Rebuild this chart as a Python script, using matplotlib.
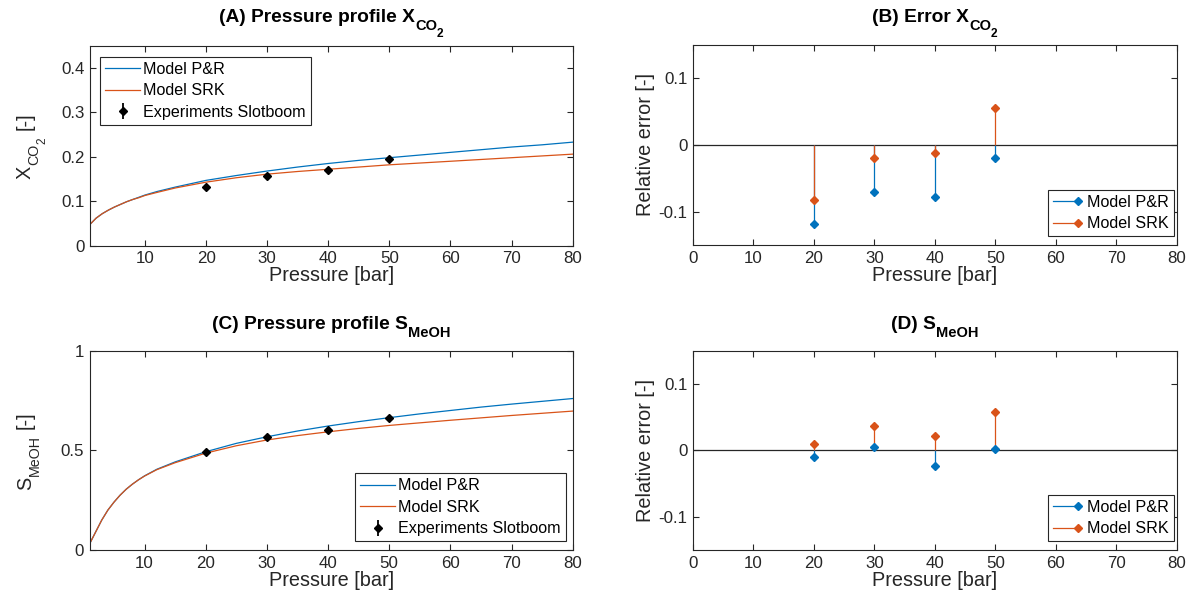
import matplotlib
matplotlib.use("Agg")
import matplotlib.pyplot as plt
from matplotlib.lines import Line2D
from matplotlib.legend_handler import HandlerBase
from matplotlib.font_manager import FontProperties
from matplotlib.transforms import IdentityTransform

FAMILY = ['Liberation Sans', 'DejaVu Sans']
plt.rcParams['font.family'] = FAMILY

BLUE = '#0072BD'
ORANGE = '#D95319'
AXC = '#262626'

# ---------------- data ----------------
pressure_curve = [1, 2, 3, 4, 5, 6, 7, 8, 9, 10, 12, 15, 20, 25, 30, 35, 40, 45, 50, 55, 60, 65, 70, 75, 80]

xco2_pr = [0.048, 0.062, 0.072, 0.080, 0.087, 0.093, 0.099, 0.104, 0.109, 0.114, 0.122, 0.132, 0.147,
           0.158, 0.168, 0.177, 0.185, 0.192, 0.198, 0.204, 0.210, 0.216, 0.222, 0.227, 0.233]
xco2_srk = [0.048, 0.062, 0.072, 0.080, 0.087, 0.093, 0.099, 0.104, 0.108, 0.113, 0.120, 0.130, 0.143,
            0.153, 0.161, 0.167, 0.172, 0.177, 0.182, 0.186, 0.190, 0.194, 0.198, 0.202, 0.206]

smeoh_pr = [0.030, 0.090, 0.150, 0.200, 0.240, 0.275, 0.305, 0.330, 0.352, 0.372, 0.405, 0.442, 0.493,
            0.535, 0.568, 0.597, 0.622, 0.644, 0.664, 0.683, 0.700, 0.717, 0.732, 0.746, 0.760]
smeoh_srk = [0.030, 0.090, 0.150, 0.200, 0.240, 0.275, 0.305, 0.330, 0.352, 0.371, 0.403, 0.438, 0.486,
             0.523, 0.552, 0.574, 0.593, 0.610, 0.625, 0.638, 0.651, 0.663, 0.675, 0.686, 0.697]

pressure_exp = [20, 30, 40, 50]
xco2_exp = [0.132, 0.156, 0.170, 0.194]
smeoh_exp = [0.490, 0.565, 0.600, 0.660]

err_xco2_pr = [-0.118, -0.070, -0.078, -0.020]
err_xco2_srk = [-0.083, -0.020, -0.012, 0.055]
err_smeoh_pr = [-0.010, 0.005, -0.023, 0.002]
err_smeoh_srk = [0.010, 0.037, 0.021, 0.057]

# ---------------- figure ----------------
fig = plt.figure(figsize=(11.95, 6.07), dpi=100)
W, H = 1195, 607
renderer = fig.canvas.get_renderer()
PX = 100 / 72.0


def axes_px(l, t, r, b):
    return fig.add_axes([l / W, 1 - b / H, (r - l) / W, (b - t) / H])


axA = axes_px(90, 45.7, 572.7, 245.7)
axB = axes_px(693, 45, 1176.7, 245)
axC = axes_px(89.5, 350.7, 572.7, 550)
axD = axes_px(693, 350.7, 1176.7, 550)

TICK_FS = 12.2
LAB_FS = 14.3
TIT_FS = 13.8
LEG_FS = 11.6


def rich(pieces, cx, cy, weight='normal', vertical=False):
    """pieces: (text, fontsize, drop_pt, gap_before_em). cx, cy in image pixels (y from top).
    horizontal: cx = center x, cy = baseline y. vertical: cx = baseline x, cy = center y."""
    widths = []
    for s, fs, drop, gap in pieces:
        fp = FontProperties(family=FAMILY, size=fs, weight=weight)
        w, h, d = renderer.get_text_width_height_descent(s, fp, ismath=False)
        widths.append(w + gap * fs * PX)
    total = sum(widths)
    cur = -total / 2.0
    for (s, fs, drop, gap), w in zip(pieces, widths):
        off = cur + gap * fs * PX
        if not vertical:
            x = cx + off
            y = (H - cy) - drop * PX
            fig.text(x, y, s, transform=IdentityTransform(), fontsize=fs, fontweight=weight,
                     ha='left', va='baseline', color='black' if weight == 'bold' else AXC)
        else:
            x = cx + drop * PX
            y = (H - cy) + off
            fig.text(x, y, s, transform=IdentityTransform(), fontsize=fs, fontweight=weight,
                     ha='left', va='baseline', rotation=90, rotation_mode='anchor', color=AXC)
        cur += w


def style(ax):
    for s in ax.spines.values():
        s.set_color(AXC)
        s.set_linewidth(0.8)
    ax.tick_params(direction='in', top=True, right=True, colors=AXC,
                   labelsize=TICK_FS, length=4.5, width=0.8, labelcolor=AXC, pad=4)


class StemHandler(HandlerBase):
    def create_artists(self, legend, orig_handle, xdescent, ydescent, width, height, fontsize, trans):
        c = orig_handle.get_color()
        y = height / 2 - ydescent
        ln = Line2D([-xdescent, width - xdescent], [y, y], color=c, lw=0.9)
        mk = Line2D([width - xdescent], [y], marker='D', color=c, ms=4.3, lw=0)
        ln.set_transform(trans)
        mk.set_transform(trans)
        return [ln, mk]


def profile(ax, ypr, ysrk, yexp, yerr, ylim, yticks, yticklabels, legloc, anchor):
    l1, = ax.plot(pressure_curve, ypr, color=BLUE, lw=0.9, label='Model P&R')
    l2, = ax.plot(pressure_curve, ysrk, color=ORANGE, lw=0.9, label='Model SRK')
    e = ax.errorbar(pressure_exp, yexp, yerr=yerr, fmt='D', color='k', ms=3.8,
                    elinewidth=1.3, capsize=0, label='Experiments Slotboom', zorder=5)
    ax.set_xlim(1, 80)
    ax.set_ylim(*ylim)
    ax.set_xticks([10, 20, 30, 40, 50, 60, 70, 80])
    ax.set_yticks(yticks)
    ax.set_yticklabels(yticklabels)
    ax.set_xlabel('Pressure [bar]', fontsize=LAB_FS, color=AXC, labelpad=0)
    style(ax)
    leg = ax.legend(handles=[l1, l2, e], loc=legloc, bbox_to_anchor=anchor, fontsize=LEG_FS,
                    frameon=True, fancybox=False, edgecolor=AXC, framealpha=1,
                    handlelength=2.2, handletextpad=0.2,
                    borderpad=0.3, labelspacing=0.4, borderaxespad=0)
    leg.get_frame().set_linewidth(0.8)


def error(ax, epr, esrk):
    ax.axhline(0, color=AXC, lw=0.9, zorder=1)
    ax.vlines(pressure_exp, 0, epr, color=BLUE, lw=0.9, zorder=2)
    ax.plot(pressure_exp, epr, 'D', color=BLUE, ms=4.3, zorder=3)
    ax.vlines(pressure_exp, 0, esrk, color=ORANGE, lw=0.9, zorder=2.5)
    ax.plot(pressure_exp, esrk, 'D', color=ORANGE, ms=4.3, zorder=3.5)
    ax.set_xlim(0, 80)
    ax.set_ylim(-0.15, 0.15)
    ax.set_xticks([0, 10, 20, 30, 40, 50, 60, 70, 80])
    ax.set_yticks([-0.1, 0, 0.1])
    ax.set_yticklabels(['-0.1', '0', '0.1'])
    ax.set_xlabel('Pressure [bar]', fontsize=LAB_FS, color=AXC, labelpad=0)
    ax.set_ylabel('Relative error [-]', fontsize=LAB_FS, color=AXC)
    ax.yaxis.set_label_coords(-0.079, 0.5)
    style(ax)
    h1 = Line2D([], [], color=BLUE)
    h2 = Line2D([], [], color=ORANGE)
    leg = ax.legend([h1, h2], ['Model P&R', 'Model SRK'], loc='lower right',
                    bbox_to_anchor=(0.9944, 0.045), fontsize=LEG_FS,
                    handler_map={Line2D: StemHandler()}, frameon=True, fancybox=False,
                    edgecolor=AXC, framealpha=1, handlelength=1.6, handletextpad=0.55,
                    borderpad=0.3, labelspacing=0.4, borderaxespad=0)
    leg.get_frame().set_linewidth(0.8)


profile(axA, xco2_pr, xco2_srk, xco2_exp, 0.0055, (0, 0.45),
        [0, 0.1, 0.2, 0.3, 0.4], ['0', '0.1', '0.2', '0.3', '0.4'], 'upper left', (0.0207, 0.9435))
error(axB, err_xco2_pr, err_xco2_srk)
profile(axC, smeoh_pr, smeoh_srk, smeoh_exp, 0.012, (0, 1),
        [0, 0.5, 1], ['0', '0.5', '1'], 'lower right', (0.986, 0.045))
error(axD, err_smeoh_pr, err_smeoh_srk)

# titles with nested subscripts
SUB = 0.76 * TIT_FS
SUB2 = 0.62 * TIT_FS
rich([('(A) Pressure profile X', TIT_FS, 0, 0), ('CO', SUB, 5.5, 0), ('2', SUB2, 10.5, 0)],
     331.4, 22, weight='bold')
rich([('(B) Error X', TIT_FS, 0, 0), ('CO', SUB, 5.5, 0), ('2', SUB2, 10.5, 0)],
     934.9, 22, weight='bold')
rich([('(C) Pressure profile S', TIT_FS, 0, 0), ('MeOH', SUB, 5.5, 0)],
     331.1, 329, weight='bold')
rich([('(D) S', TIT_FS, 0, 0), ('MeOH', SUB, 5.5, 0)],
     934.9, 329, weight='bold')

# y labels with subscripts
LSUB = 0.72 * LAB_FS
LSUB2 = 0.6 * LAB_FS
rich([('X', LAB_FS, 0, 0), ('CO', LSUB, 5.5, 0), ('2', LSUB2, 10.5, 0), ('[-]', LAB_FS, 0, 0.35)],
     31, 145.7, vertical=True)
rich([('S', LAB_FS, 0, 0), ('MeOH', LSUB, 5.5, 0), ('[-]', LAB_FS, 0, 0.35)],
     31, 450.3, vertical=True)

fig.savefig('out.png', dpi=100)
